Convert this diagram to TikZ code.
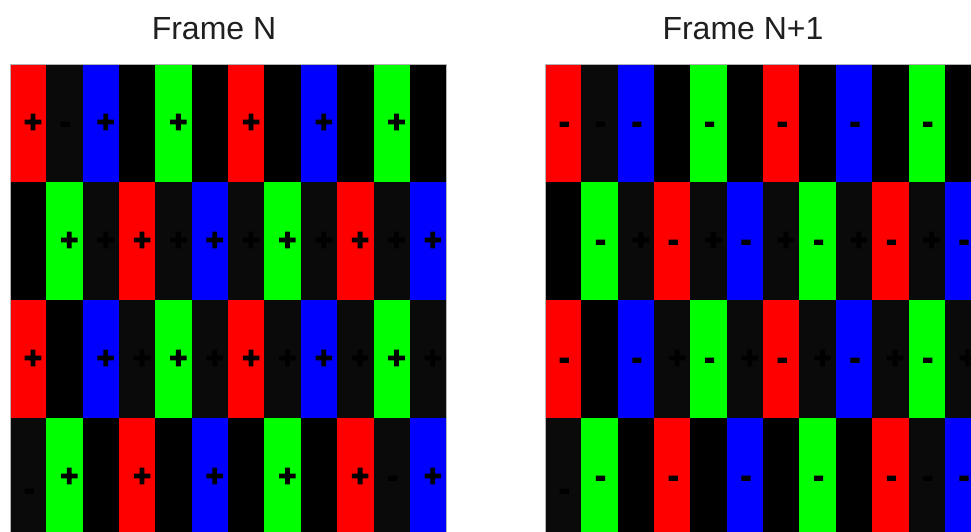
\documentclass[tikz,border=0pt]{standalone}
\usepackage{fontspec}
\setmainfont{Liberation Sans}
\newfontfamily\signfont{Liberation Sans Bold}[FakeBold=5]
\definecolor{pixred}{HTML}{FF0000}
\definecolor{pixgreen}{HTML}{00FF00}
\definecolor{pixblue}{HTML}{0000FF}
\definecolor{pixdark}{HTML}{0A0A0A}
\tikzset{
  polarity/.style={anchor=base west,inner sep=0pt,text=black,font=\fontsize{30}{32}\signfont},
  frametitle/.style={anchor=base,inner sep=0pt,text=black!88,font=\fontsize{32}{38}\selectfont}
}

\begin{document}
\begin{tikzpicture}[x=1pt,y=-1pt]
    \useasboundingbox (0,0) rectangle (971,532);
    \clip (0,0) rectangle (971,532);
    \fill[white] (0,0) rectangle (971,532);
    \node[frametitle] (titleN) at (214,40) {Frame N};
    \node[frametitle] (titleM) at (743,40) {Frame N+1};
    % one panel per frame: left edge, polarity, name
    \foreach \fx/\sg/\fn in {10/+/N,545/-/M} {
      \fill[black] (\fx,64) rectangle ++(436.2,472);
      % dim subpixels with a faint sign
      \foreach \r/\c/\s/\dy in {1/2/-/0,2/3/+/0,2/5/+/0,2/7/+/0,2/9/+/0,2/11/+/0,
          3/4/+/0,3/6/+/0,3/8/+/0,3/10/+/0,3/12/+/0,4/1/-/13,4/11/-/0} {
        \fill[pixdark] ({\fx+(\c-1)*36.35},{64+(\r-1)*118}) rectangle ++(36.35,118);
        \node[polarity] (f\fn-\r-\c) at ({\fx+(\c-1)*36.35+14},{132+(\r-1)*118+\dy}) {\s};
      }
      % lit subpixels
      \foreach \r in {1,3} {
        \foreach \c/\col in {1/pixred,3/pixblue,5/pixgreen,7/pixred,9/pixblue,11/pixgreen} {
          \fill[\col] ({\fx+(\c-1)*36.35},{64+(\r-1)*118}) rectangle ++(36.35,118);
          \node[polarity] (s\fn-\r-\c) at ({\fx+(\c-1)*36.35+14},{132+(\r-1)*118}) {\sg};
        }
      }
      \foreach \r in {2,4} {
        \foreach \c/\col in {2/pixgreen,4/pixred,6/pixblue,8/pixgreen,10/pixred,12/pixblue} {
          \fill[\col] ({\fx+(\c-1)*36.35},{64+(\r-1)*118}) rectangle ++(36.35,118);
          \node[polarity] (s\fn-\r-\c) at ({\fx+(\c-1)*36.35+14},{132+(\r-1)*118}) {\sg};
        }
      }
      \draw[gray!60,line width=0.8pt] (\fx,64) rectangle ++(436.2,472);
    }
\end{tikzpicture}
\end{document}
